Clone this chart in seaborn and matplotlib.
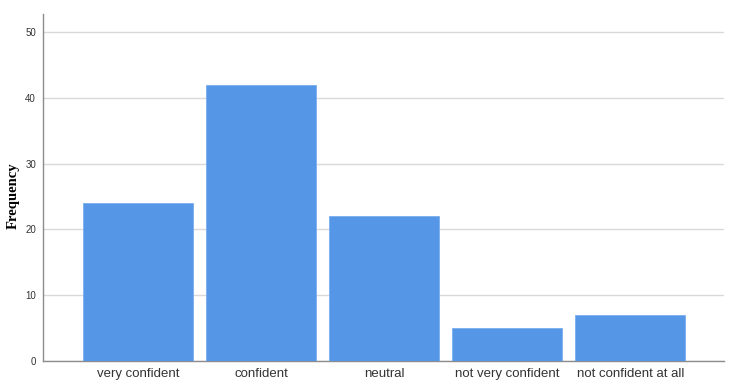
import matplotlib
matplotlib.use("Agg")
import matplotlib.pyplot as plt
import seaborn as sns
import pandas as pd

categories = ["very confident", "confident", "neutral", "not very confident", "not confident at all"]
frequency = [24, 42, 22, 5, 7]
yticks = [0, 10, 20, 30, 40, 50]

df = pd.DataFrame({"answer": categories, "count": frequency})

sns.set_style("white")
plt.rcParams["font.family"] = ["Liberation Sans", "DejaVu Sans"]

fig = plt.figure(figsize=(7.31, 3.91), dpi=100)
ax = fig.add_axes([0.0588, 0.0767, 0.932, 0.887])

sns.barplot(data=df, x="answer", y="count", color="#5596E6", saturation=1,
            width=0.894, edgecolor="#7aaef0", linewidth=0.6, ax=ax, zorder=3)

ax.set_xlim(-0.772, 4.764)
ax.set_ylim(0, 52.7)
ax.set_yticks(yticks)
ax.yaxis.grid(True, color="#d9d9d9", linewidth=1.0, zorder=0)
ax.set_axisbelow(True)

for s in ["top", "right"]:
    ax.spines[s].set_visible(False)
for s in ["left", "bottom"]:
    ax.spines[s].set_color("#8c8c8c")
    ax.spines[s].set_linewidth(1.0)

ax.tick_params(axis="y", length=0, labelsize=7, labelcolor="#333333", pad=5)
ax.tick_params(axis="x", length=0, labelsize=9.5, labelcolor="#333333", pad=5)
ax.set_xlabel("")
ax.set_ylabel("Frequency", family=["Liberation Serif", "DejaVu Serif"],
              fontweight="bold", fontsize=10.5, color="black", va="center")
ax.yaxis.set_label_coords(-0.044, 0.476)

fig.savefig("out.png", dpi=100)
